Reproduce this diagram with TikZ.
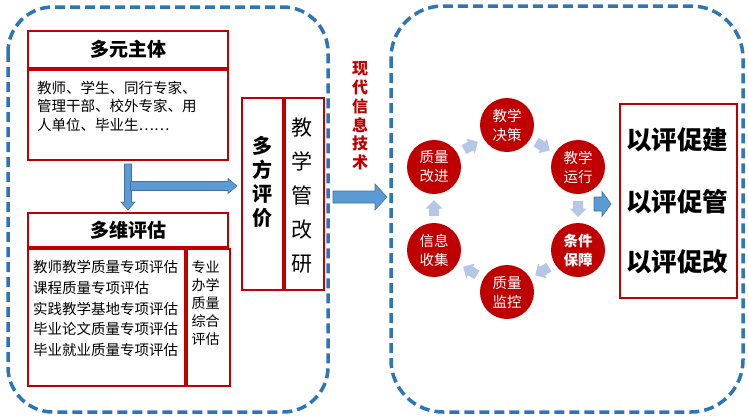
\documentclass[tikz,border=0pt]{standalone}
\usepackage{fontspec}
\setmainfont{Noto Sans CJK SC}
\usetikzlibrary{calc}
\definecolor{dred}{HTML}{C00000}
\definecolor{dblue}{HTML}{2E75B6}
\definecolor{ablue}{HTML}{5B9BD5}
\definecolor{aline}{HTML}{41719C}
\definecolor{lblue}{HTML}{B4C7E7}
\tikzset{
 dashbox/.style={draw=dblue, line width=3.5pt, dash pattern=on 10pt off 5pt},
 rbox/.style={draw=dred, line width=2pt, inner sep=0pt, fill=white},
 hdr/.style={font=\bfseries\fontsize{19}{22}\selectfont},
 bodytxt/.style={inner sep=0pt, align=left, anchor=north west},
 circ/.style={circle, fill=dred, minimum size=54pt, inner sep=0pt, text=white, align=center, font=\fontsize{14.5}{19}\selectfont},
 sarrow/.pic={\fill[lblue] (-7.5,-5) -- (0,-5) -- (0,-8.5) -- (8.5,0) -- (0,8.5) -- (0,5) -- (-7.5,5) -- cycle;},
 barrow/.style={fill=ablue, draw=aline, line width=0.6pt},
}
\newcommand\myharrow[5]{%
 \draw[barrow] ($(#1)+(0,-#3)$) -- ($(#2)+(-#5,-#3)$) -- ($(#2)+(-#5,-#4)$) -- (#2) -- ($(#2)+(-#5,#4)$) -- ($(#2)+(-#5,#3)$) -- ($(#1)+(0,#3)$) -- cycle;}
\begin{document}
\begin{tikzpicture}[x=1pt,y=-1pt]
\useasboundingbox (0,0) rectangle (748,418);
\draw[dashbox, rounded corners=45pt] (8,7) rectangle (328,412);
\draw[dashbox, rounded corners=52pt] (391,6) rectangle (743,412);

% box 1
\node[rbox, anchor=north west, minimum width=200pt, minimum height=37pt, hdr] (m1h) at (27,30) {多元主体};
\node[rbox, anchor=north, minimum width=200pt, minimum height=90pt] (m1b) at (m1h.south) {};
\node[bodytxt, font=\fontsize{14.5}{18.8}\selectfont] (m1t) at (37,80.5) {教师、学生、同行专家、\\管理干部、校外专家、用\\人单位、毕业生……};

% box 2
\node[rbox, anchor=north west, minimum width=200pt, minimum height=34pt, hdr] (m2h) at (27,212) {多维评估};
\node[rbox, anchor=north west, minimum width=157pt, minimum height=137pt] (m2l) at (m2h.south west) {};
\node[rbox, anchor=north west, minimum width=43pt, minimum height=137pt] (m2r) at (m2l.north east) {};
\node[bodytxt, font=\fontsize{14.5}{20.75}\selectfont] (m2t) at (33,260) {教师教学质量专项评估\\课程质量专项评估\\实践教学基地专项评估\\毕业论文质量专项评估\\毕业就业质量专项评估};
\node[inner sep=0pt, align=center, anchor=north, font=\fontsize{14}{18}\selectfont] (m2rt) at (205.5,261) {专业\\办学\\质量\\综合\\评估};

% box 3
\node[rbox, anchor=north west, minimum width=41pt, minimum height=192pt] (p1) at (241,97) {};
\node[rbox, anchor=north west, minimum width=39pt, minimum height=192pt] (p2) at (p1.north east) {};
\node[inner sep=0pt, align=center, font=\bfseries\fontsize{20}{24}\selectfont] (p1t) at (262,182) {多\\方\\评\\价};
\node[inner sep=0pt, align=center, font=\fontsize{21}{34}\selectfont] (p2t) at (302,196) {教\\学\\管\\改\\研};

% arrows left
\coordinate (vt) at ($(m2h.north)+(0,-2)$);
\draw[barrow] ($(m1b.south)+(-3.5,3)$) -- ($(vt)+(-3.5,-8)$) -- ($(vt)+(-7,-8)$) -- (vt) -- ($(vt)+(7,-8)$) -- ($(vt)+(3.5,-8)$) -- ($(m1b.south)+(3.5,3)$) -- cycle;
\coordinate (hs) at (130.5,186);
\coordinate (ht) at ($(p1.west |- hs)+(-4,0)$);
\myharrow{hs}{ht}{4.5}{7.5}{9}

% big arrow
\coordinate (bs) at (333,197);
\coordinate (bt) at (387,197);
\myharrow{bs}{bt}{6}{13}{12}
\node[inner sep=0pt, align=center, text=dred, font=\bfseries\fontsize{16}{18.8}\selectfont] (xd) at (360,116) {现\\代\\信\\息\\技\\术};

% circles
\node[circ] (c1) at (507,125) {教学\\决策};
\node[circ] (c2) at (578,167) {教学\\运行};
\node[circ, font=\bfseries\fontsize{14.5}{19}\selectfont] (c3) at (578,250) {条件\\保障};
\node[circ] (c4) at (507,292) {质量\\监控};
\node[circ] (c5) at (434,250) {信息\\收集};
\node[circ] (c6) at (434,167) {质量\\改进};
\foreach \a/\b in {c6/c1,c1/c2,c2/c3,c3/c4,c4/c5,c5/c6}
  \path let \p1=(\a), \p2=(\b), \n1={atan2(\y2-\y1,\x2-\x1)} in
    pic[rotate=\n1] at ($(\p1)!0.5!(\p2)$) {sarrow};

% right box
\node[rbox, anchor=north west, minimum width=117pt, minimum height=194pt] (rb) at (619,103) {};
\coordinate (ss) at (594,204);
\coordinate (st) at ($(rb.west |- ss)+(-8,0)$);
\myharrow{ss}{st}{7}{12.5}{9}
\node[inner sep=0pt, font=\bfseries\fontsize{25.5}{30}\selectfont] (r1) at (677,140) {以评促建};
\node[inner sep=0pt, font=\bfseries\fontsize{25.5}{30}\selectfont] (r2) at (677,202) {以评促管};
\node[inner sep=0pt, font=\bfseries\fontsize{25.5}{30}\selectfont] (r3) at (677,262) {以评促改};
\end{tikzpicture}
\end{document}
